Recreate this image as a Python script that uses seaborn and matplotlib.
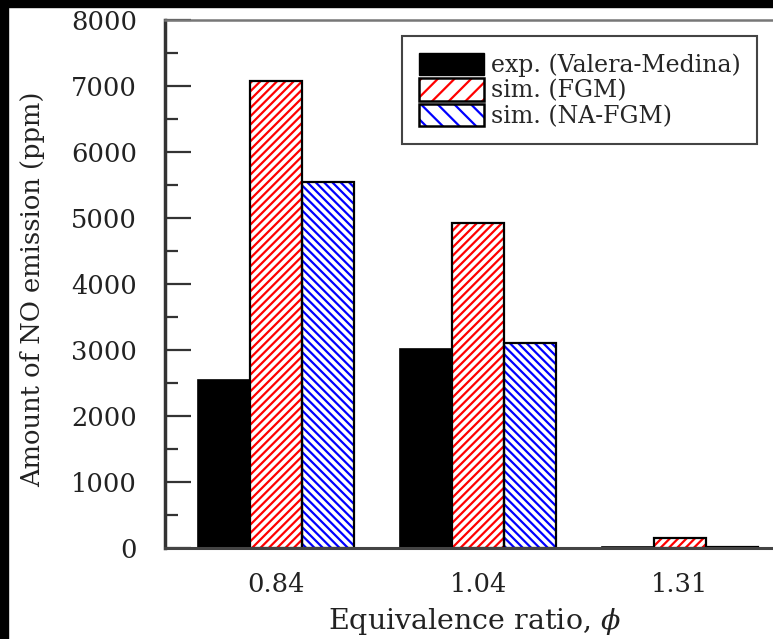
"""plot.py"""

import matplotlib

matplotlib.use("Agg")
import matplotlib.pyplot as plt
import pandas as pd
import seaborn as sns
from matplotlib.legend_handler import HandlerTuple
from matplotlib.patches import Patch, Rectangle
from matplotlib.ticker import MultipleLocator

# data
ratios = ["0.84", "1.04", "1.31"]
exp_valera = [2550, 3010, 10]
sim_fgm = [7070, 4930, 150]
sim_nafgm = [5550, 3100, 20]
series = ["exp. (Valera-Medina)", "sim. (FGM)", "sim. (NA-FGM)"]

df = pd.DataFrame(
    {
        "ratio": ratios * 3,
        "value": exp_valera + sim_fgm + sim_nafgm,
        "series": [series[0]] * 3 + [series[1]] * 3 + [series[2]] * 3,
    }
)

sns.set_style("ticks")
plt.rcParams["font.family"] = ["DejaVu Serif"]
plt.rcParams["mathtext.fontset"] = "dejavuserif"
plt.rcParams["hatch.linewidth"] = 1.6

fig = plt.figure(figsize=(7.73, 6.39), dpi=100)
ax = fig.add_axes([165 / 773, 91 / 639, 626 / 773, 528 / 639])

sns.barplot(
    data=df,
    x="ratio",
    y="value",
    hue="series",
    order=ratios,
    hue_order=series,
    palette=["black", "white", "white"],
    width=0.77,
    gap=0,
    legend=False,
    ax=ax,
)

# hatch styles: red "/" and blue "\", each with a black outline
styles = [("black", None), ("red", "////"), ("blue", "\\\\\\\\")]
for cont, (col, hatch) in zip(ax.containers, styles):
    for bar in cont:
        if hatch is None:
            bar.set_facecolor("black")
            bar.set_edgecolor("black")
            bar.set_linewidth(1.2)
        else:
            bar.set_facecolor("white")
            bar.set_edgecolor(col)
            bar.set_hatch(hatch)
            bar.set_linewidth(0)
            ax.add_patch(
                Rectangle(
                    bar.get_xy(),
                    bar.get_width(),
                    bar.get_height(),
                    fill=False,
                    edgecolor="black",
                    linewidth=1.6,
                    zorder=bar.get_zorder() + 0.1,
                )
            )

ax.set_xlim(-0.55, 2.55)
ax.set_ylim(0, 8000)
ax.yaxis.set_major_locator(MultipleLocator(1000))
ax.yaxis.set_minor_locator(MultipleLocator(500))
ax.tick_params(axis="y", which="major", direction="in", length=19, width=1.6,
               labelsize=18.5, pad=20, color="#333333")
ax.tick_params(axis="y", which="minor", direction="in", length=9, width=1.6,
               color="#333333")
ax.tick_params(axis="x", length=0, labelsize=18.5, pad=17)
for lab in ax.get_xticklabels() + ax.get_yticklabels():
    lab.set_color("#222222")

ax.spines["left"].set_linewidth(2.5)
ax.spines["left"].set_color("#333333")
ax.spines["bottom"].set_linewidth(2.2)
ax.spines["bottom"].set_color("#444444")
ax.spines["top"].set_linewidth(1.8)
ax.spines["top"].set_color("#777777")
ax.spines["right"].set_visible(False)

ax.set_xlabel(r"Equivalence ratio, $\phi$", fontsize=20.5, color="#222222")
ax.set_ylabel("Amount of NO emission (ppm)", fontsize=18.5, color="#222222")
ax.xaxis.set_label_coords(0.495, -0.110)
ax.yaxis.set_label_coords(-0.192, 0.49)

# legend: hatched handles with black outline
handles = [
    Patch(facecolor="black", edgecolor="black"),
    (
        Patch(facecolor="white", edgecolor="red", hatch="//", linewidth=0),
        Patch(fill=False, edgecolor="black", linewidth=1.8),
    ),
    (
        Patch(facecolor="white", edgecolor="blue", hatch="\\\\", linewidth=0),
        Patch(fill=False, edgecolor="black", linewidth=1.8),
    ),
]
leg = ax.legend(
    handles,
    series,
    handler_map={tuple: HandlerTuple(ndivide=1, pad=0)},
    loc="upper right",
    bbox_to_anchor=(0.9457, 0.9697),
    borderaxespad=0,
    fontsize=17,
    fancybox=False,
    framealpha=1,
    edgecolor="#444444",
    handlelength=2.75,
    handleheight=1.1,
    handletextpad=0.3,
    labelspacing=0.05,
    borderpad=0.7,
)
leg.get_frame().set_linewidth(1.5)

# black border of the scanned figure
fig.patches.append(Rectangle((0, 0), 8 / 773, 1, transform=fig.transFigure,
                             color="black", zorder=10))
fig.patches.append(Rectangle((0, 1 - 7 / 639), 1, 7 / 639, transform=fig.transFigure,
                             color="black", zorder=10))

fig.savefig("out.png", dpi=100)
